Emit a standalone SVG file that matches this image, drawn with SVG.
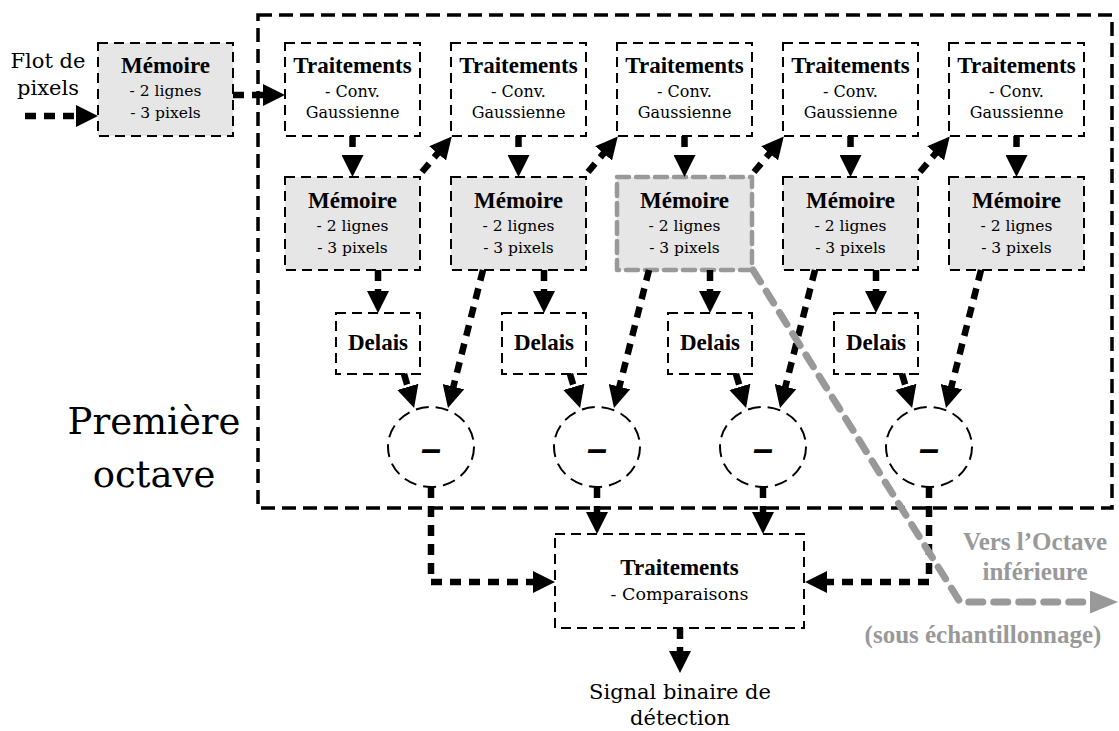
<svg xmlns="http://www.w3.org/2000/svg" width="1119" height="731" viewBox="0 0 1119 731">
<style>
.bx{fill:#fff;stroke:#000;stroke-width:2;stroke-dasharray:10 6}
.mem{fill:#e6e6e6;stroke:#000;stroke-width:2;stroke-dasharray:10 6}
.memg{fill:#e6e6e6;stroke:#999;stroke-width:4.5;stroke-dasharray:12 7;stroke-linecap:round;stroke-linejoin:round}
.ci{fill:none;stroke:#000;stroke-width:2;stroke-dasharray:13 7}
.outer{fill:none;stroke:#000;stroke-width:3.5;stroke-dasharray:14 7}
.c{fill:none;stroke:#000;stroke-width:6.5;stroke-dasharray:11 8;marker-end:url(#ah)}
.cg{fill:none;stroke:#999;stroke-width:7;stroke-dasharray:14 11;stroke-linecap:round;stroke-linejoin:round;marker-end:url(#ahg)}
text{text-anchor:middle;fill:#000}
.b{font-family:"Liberation Serif",serif;font-weight:bold;font-size:23px}
.s{font-family:"DejaVu Serif",serif;font-size:16px}
.s2{font-family:"DejaVu Serif",serif;font-size:15.5px}
.m{font-family:"DejaVu Serif",serif;font-size:21px}
.big{font-family:"DejaVu Serif",serif;font-size:37px}
.g{font-family:"Liberation Serif",serif;font-weight:bold;font-size:25px;fill:#999}
.minus{font-family:"Liberation Sans",sans-serif;font-weight:bold;font-style:italic;font-size:36px}
</style>
<defs>
<marker id="ah" markerUnits="userSpaceOnUse" viewBox="0 0 22 22" markerWidth="22" markerHeight="22" refX="2" refY="11" orient="auto"><path d="M0,0 L22,11 L0,22 z" fill="#000"/></marker>
<marker id="ahg" markerUnits="userSpaceOnUse" viewBox="0 0 28 23" markerWidth="28" markerHeight="23" refX="2" refY="11.5" orient="auto"><path d="M0,0 L28,11.5 L0,23 z" fill="#999"/></marker>
</defs>

<rect class="outer" x="258" y="15" width="854" height="493"/>

<g id="labels">
<text class="m" x="48" y="68">Flot de</text>
<text class="m" x="48" y="95">pixels</text>
<text class="big" x="154" y="434">Première</text>
<text class="big" x="154" y="487">octave</text>
<text class="g" x="1035" y="550">Vers l’Octave</text>
<text class="g" x="1035" y="580">inférieure</text>
<text class="g" x="983" y="643">(sous échantillonnage)</text>
<text class="m" x="680" y="699">Signal binaire de</text>
<text class="m" x="680" y="725">détection</text>
</g>

<g id="mem-in"><rect class="mem" x="98" y="43" width="135" height="93"/><text class="b" x="165.5" y="73">Mémoire</text><text class="s2" x="165.5" y="96">- 2 lignes</text><text class="s2" x="165.5" y="118">- 3 pixels</text></g>

<g id="t1"><rect class="bx" x="285" y="43" width="135" height="93"/><text class="b" x="352.5" y="73">Traitements</text><text class="s" x="352.5" y="97">- Conv.</text><text class="s" x="352.5" y="118">Gaussienne</text></g>
<g id="t2"><rect class="bx" x="451" y="43" width="135" height="93"/><text class="b" x="518.5" y="73">Traitements</text><text class="s" x="518.5" y="97">- Conv.</text><text class="s" x="518.5" y="118">Gaussienne</text></g>
<g id="t3"><rect class="bx" x="617" y="43" width="135" height="93"/><text class="b" x="684.5" y="73">Traitements</text><text class="s" x="684.5" y="97">- Conv.</text><text class="s" x="684.5" y="118">Gaussienne</text></g>
<g id="t4"><rect class="bx" x="783" y="43" width="135" height="93"/><text class="b" x="850.5" y="73">Traitements</text><text class="s" x="850.5" y="97">- Conv.</text><text class="s" x="850.5" y="118">Gaussienne</text></g>
<g id="t5"><rect class="bx" x="949" y="43" width="135" height="93"/><text class="b" x="1016.5" y="73">Traitements</text><text class="s" x="1016.5" y="97">- Conv.</text><text class="s" x="1016.5" y="118">Gaussienne</text></g>

<g id="m1"><rect class="mem" x="285" y="177" width="135" height="93"/><text class="b" x="352.5" y="208">Mémoire</text><text class="s2" x="352.5" y="231">- 2 lignes</text><text class="s2" x="352.5" y="253">- 3 pixels</text></g>
<g id="m2"><rect class="mem" x="451" y="177" width="135" height="93"/><text class="b" x="518.5" y="208">Mémoire</text><text class="s2" x="518.5" y="231">- 2 lignes</text><text class="s2" x="518.5" y="253">- 3 pixels</text></g>
<g id="m3"><rect class="memg" x="617" y="177" width="135" height="93"/><text class="b" x="684.5" y="208">Mémoire</text><text class="s2" x="684.5" y="231">- 2 lignes</text><text class="s2" x="684.5" y="253">- 3 pixels</text></g>
<g id="m4"><rect class="mem" x="783" y="177" width="135" height="93"/><text class="b" x="850.5" y="208">Mémoire</text><text class="s2" x="850.5" y="231">- 2 lignes</text><text class="s2" x="850.5" y="253">- 3 pixels</text></g>
<g id="m5"><rect class="mem" x="949" y="177" width="135" height="93"/><text class="b" x="1016.5" y="208">Mémoire</text><text class="s2" x="1016.5" y="231">- 2 lignes</text><text class="s2" x="1016.5" y="253">- 3 pixels</text></g>

<g id="d1"><rect class="bx" x="336" y="313" width="84" height="61"/><text class="b" x="378" y="350">Delais</text></g>
<g id="d2"><rect class="bx" x="502" y="313" width="84" height="61"/><text class="b" x="544" y="350">Delais</text></g>
<g id="d3"><rect class="bx" x="668" y="313" width="84" height="61"/><text class="b" x="710" y="350">Delais</text></g>
<g id="d4"><rect class="bx" x="834" y="313" width="84" height="61"/><text class="b" x="876" y="350">Delais</text></g>

<g id="s1"><ellipse class="ci" cx="431" cy="447" rx="43" ry="40"/><text class="minus" x="431" y="461">–</text></g>
<g id="s2"><ellipse class="ci" cx="597" cy="447" rx="43" ry="40"/><text class="minus" x="597" y="461">–</text></g>
<g id="s3"><ellipse class="ci" cx="763" cy="447" rx="43" ry="40"/><text class="minus" x="763" y="461">–</text></g>
<g id="s4"><ellipse class="ci" cx="929" cy="447" rx="43" ry="40"/><text class="minus" x="929" y="461">–</text></g>

<g id="cmp"><rect class="bx" x="555" y="534" width="249" height="94"/><text class="b" x="679.5" y="575">Traitements</text><text class="s" style="font-size:17.5px" x="679.5" y="600">- Comparaisons</text></g>

<g id="connectors">
<path class="c" d="M25,116 H78"/>
<path class="c" d="M233,95 H265"/>
<path class="c" d="M352.5,136 V157"/>
<path class="c" d="M518.5,136 V157"/>
<path class="c" d="M684.5,136 V157"/>
<path class="c" d="M850.5,136 V157"/>
<path class="c" d="M1016.5,136 V157"/>
<path class="c" d="M422,172 L438.9,151.9"/>
<path class="c" d="M588,172 L604.9,151.9"/>
<path class="c" d="M754,172 L770.9,151.9"/>
<path class="c" d="M920,172 L936.9,151.9"/>
<path class="c" d="M378,270 V293"/>
<path class="c" d="M544,270 V293"/>
<path class="c" d="M710,270 V293"/>
<path class="c" d="M876,270 V293"/>
<path class="c" d="M404,374 L408.4,388.8"/>
<path class="c" d="M570,374 L574.4,388.8"/>
<path class="c" d="M736,374 L740.4,388.8"/>
<path class="c" d="M902,374 L906.4,388.8"/>
<path class="c" d="M483,270 L452.9,388.6"/>
<path class="c" d="M649,270 L618.9,388.6"/>
<path class="c" d="M815,270 L784.9,388.6"/>
<path class="c" d="M981,270 L950.9,388.6"/>
<path class="c" d="M431,487 V582 H535"/>
<path class="c" d="M597,487 V514"/>
<path class="c" d="M763,487 V514"/>
<path class="c" d="M929,487 V582 H825"/>
<path class="c" d="M680,628 V653"/>
<path class="cg" d="M753,270 L960,602 H1092"/>
</g>
</svg>
